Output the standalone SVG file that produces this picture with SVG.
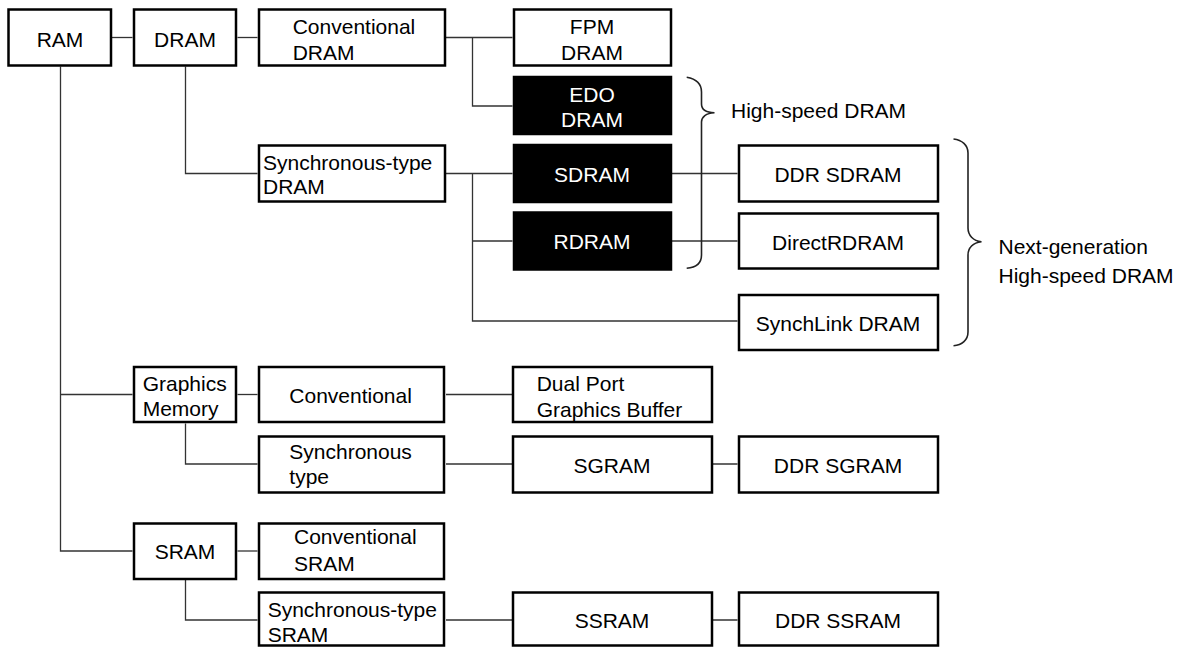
<svg xmlns="http://www.w3.org/2000/svg" width="1187" height="648" viewBox="0 0 1187 648">
  <style>
    .box { fill: #ffffff; stroke: #000000; stroke-width: 2.5; }
    .dark { fill: #000000; stroke: #000000; stroke-width: 2.5; }
    .lbl { font-family: "Liberation Sans", Arial, sans-serif; font-size: 21px; fill: #000000; }
    .ctr { text-anchor: middle; }
    .inv { fill: #ffffff; }
    .wire { fill: none; stroke: #333333; stroke-width: 1.3; }
    .brace { fill: none; stroke: #222222; stroke-width: 1.6; }
  </style>
  <rect width="1187" height="648" fill="#ffffff"/>

  <!-- connectors -->
  <g id="connectors" class="wire">
    <path d="M112,37.5 H132.5"/>
    <path d="M237.5,37.5 H257.5"/>
    <path d="M446,37.5 H512.5 M472.5,37.5 V106 H512.5"/>
    <path d="M60.5,66.5 V551 H132.5 M60.5,394.5 H132.5"/>
    <path d="M185.5,66.5 V173.5 H257.5"/>
    <path d="M446,173.5 H512.5 M472.5,173.5 V321 H737.5 M472.5,241 H512.5"/>
    <path d="M672,173.5 H737.5"/>
    <path d="M672,241 H737.5"/>
    <path d="M237.5,394.5 H257.5"/>
    <path d="M446,394.5 H512"/>
    <path d="M185.5,423.5 V464 H257.5"/>
    <path d="M446,464 H512 M713,464 H737.5"/>
    <path d="M237.5,551 H257.5"/>
    <path d="M185.5,580 V620 H257.5"/>
    <path d="M446,620 H512 M713,620 H737.5"/>
  </g>

  <!-- grouping braces -->
  <g id="brace-highspeed">
    <path class="brace" d="M686.7,77.3 C696,79 701.5,84 701.5,92 L701.5,104 C701.5,109 706,112.5 714.5,112.7 C706,113 701.5,117 701.5,122 L701.5,255 C701.5,263 696,267.5 686.7,268.3"/>
    <text class="lbl" x="731" y="117.5">High-speed DRAM</text>
  </g>
  <g id="brace-nextgen">
    <path class="brace" d="M953.5,139 C962,140 968,145 968,153 L968,228 C968,235 973,241 981.5,241.7 C973,242.5 968,248 968,255 L968,332 C968,340 962,345 953.5,345.7"/>
    <text class="lbl" x="998.5" y="254">Next-generation</text>
    <text class="lbl" x="998.5" y="282.5">High-speed DRAM</text>
  </g>

  <!-- nodes -->
  <g id="ram">
    <rect class="box" x="8.5" y="9.5" width="102.5" height="56"/>
    <text class="lbl ctr" x="60" y="47">RAM</text>
  </g>
  <g id="dram">
    <rect class="box" x="134" y="9.5" width="102" height="56"/>
    <text class="lbl ctr" x="185" y="47">DRAM</text>
  </g>
  <g id="conventional-dram">
    <rect class="box" x="259" y="9.5" width="186" height="56"/>
    <text class="lbl" x="292.7" y="33.5">Conventional</text>
    <text class="lbl" x="292.7" y="59.5">DRAM</text>
  </g>
  <g id="fpm-dram">
    <rect class="box" x="514" y="9.5" width="157" height="56"/>
    <text class="lbl ctr" x="592" y="34">FPM</text>
    <text class="lbl ctr" x="592" y="59.5">DRAM</text>
  </g>
  <g id="edo-dram">
    <rect class="dark" x="514" y="77" width="157" height="57"/>
    <text class="lbl ctr inv" x="592" y="101.7">EDO</text>
    <text class="lbl ctr inv" x="592" y="126.7">DRAM</text>
  </g>
  <g id="sync-dram">
    <rect class="box" x="259" y="145.5" width="186" height="56"/>
    <text class="lbl" x="263" y="169.5">Synchronous-type</text>
    <text class="lbl" x="263" y="193.5">DRAM</text>
  </g>
  <g id="sdram">
    <rect class="dark" x="514" y="145" width="157" height="57"/>
    <text class="lbl ctr inv" x="592" y="181.7">SDRAM</text>
  </g>
  <g id="rdram">
    <rect class="dark" x="514" y="212.5" width="157" height="57"/>
    <text class="lbl ctr inv" x="592" y="249">RDRAM</text>
  </g>
  <g id="ddr-sdram">
    <rect class="box" x="739" y="145.5" width="199" height="56"/>
    <text class="lbl ctr" x="838" y="182">DDR SDRAM</text>
  </g>
  <g id="direct-rdram">
    <rect class="box" x="739" y="213.5" width="199" height="55"/>
    <text class="lbl ctr" x="838" y="249.5">DirectRDRAM</text>
  </g>
  <g id="synchlink-dram">
    <rect class="box" x="739" y="295" width="199" height="55"/>
    <text class="lbl ctr" x="838" y="330.7">SynchLink DRAM</text>
  </g>
  <g id="graphics-memory">
    <rect class="box" x="134" y="367" width="102" height="55"/>
    <text class="lbl" x="142.7" y="390.7">Graphics</text>
    <text class="lbl" x="142.7" y="415.7">Memory</text>
  </g>
  <g id="graphics-conventional">
    <rect class="box" x="259" y="367" width="185" height="55"/>
    <text class="lbl" x="289.3" y="403.3">Conventional</text>
  </g>
  <g id="dual-port">
    <rect class="box" x="513" y="367" width="199" height="55"/>
    <text class="lbl" x="536.7" y="390.7">Dual Port</text>
    <text class="lbl" x="536.7" y="416.7">Graphics Buffer</text>
  </g>
  <g id="graphics-sync">
    <rect class="box" x="259" y="436.5" width="185" height="56"/>
    <text class="lbl" x="289.3" y="459.3">Synchronous</text>
    <text class="lbl" x="289.3" y="484">type</text>
  </g>
  <g id="sgram">
    <rect class="box" x="513" y="436.5" width="199" height="56"/>
    <text class="lbl ctr" x="612" y="473.3">SGRAM</text>
  </g>
  <g id="ddr-sgram">
    <rect class="box" x="739" y="436.5" width="199" height="56"/>
    <text class="lbl ctr" x="838" y="473.3">DDR SGRAM</text>
  </g>
  <g id="sram">
    <rect class="box" x="134" y="523.5" width="102" height="55.5"/>
    <text class="lbl ctr" x="185" y="559.3">SRAM</text>
  </g>
  <g id="conventional-sram">
    <rect class="box" x="259" y="523.5" width="185" height="55.5"/>
    <text class="lbl" x="294" y="544.3">Conventional</text>
    <text class="lbl" x="294" y="570.7">SRAM</text>
  </g>
  <g id="sync-sram">
    <rect class="box" x="259" y="592.5" width="185" height="53"/>
    <text class="lbl" x="267.7" y="616.7">Synchronous-type</text>
    <text class="lbl" x="267.7" y="641.7">SRAM</text>
  </g>
  <g id="ssram">
    <rect class="box" x="513" y="592.5" width="199" height="53"/>
    <text class="lbl ctr" x="612" y="628.3">SSRAM</text>
  </g>
  <g id="ddr-ssram">
    <rect class="box" x="739" y="592.5" width="199" height="53"/>
    <text class="lbl ctr" x="838" y="628.3">DDR SSRAM</text>
  </g>
</svg>
